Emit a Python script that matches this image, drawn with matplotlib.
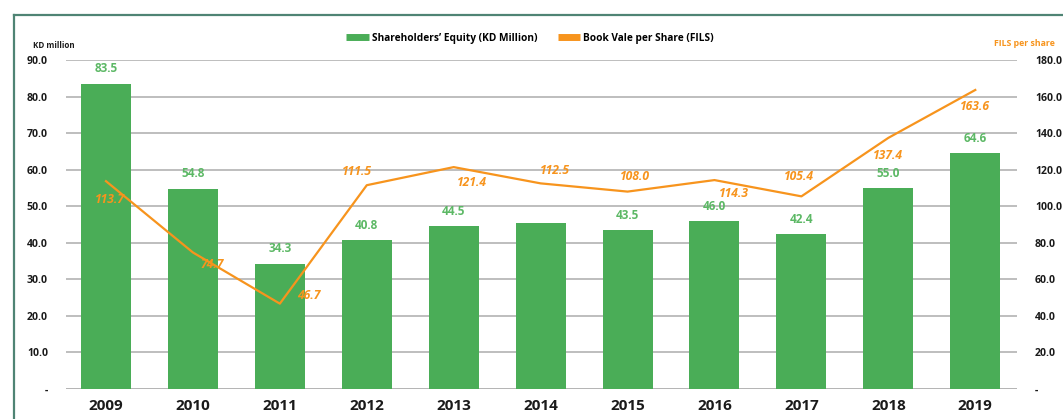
import matplotlib
matplotlib.use("Agg")
import matplotlib.pyplot as plt
from matplotlib.lines import Line2D
import numpy as np

years = ["2009", "2010", "2011", "2012", "2013", "2014", "2015", "2016", "2017", "2018", "2019"]
equity = [83.5, 54.8, 34.3, 40.8, 44.5, 45.5, 43.5, 46.0, 42.4, 55.0, 64.6]
equity_labels = ["83.5", "54.8", "34.3", "40.8", "44.5", "", "43.5", "46.0", "42.4", "55.0", "64.6"]
book_value = [113.7, 74.7, 46.7, 111.5, 121.4, 112.5, 108.0, 114.3, 105.4, 137.4, 163.6]
left_ticks = [0, 10, 20, 30, 40, 50, 60, 70, 80, 90]
right_ticks = [0, 20, 40, 60, 80, 100, 120, 140, 160, 180]

# label offsets (points) for the line values, as placed in the original
bv_offsets = [(3, -13), (14, -9), (21, 6), (-7, 10), (13, -11), (10, 9), (5, 11),
              (14, -10), (-2, 14), (0, -13), (0, -12)]

GREEN = "#4aad57"
GREEN_TXT = "#5cb865"
ORANGE = "#f7941d"
GRID = "#b3b3b3"
DARK = "#1a1a1a"

plt.rcParams["font.family"] = ["Open Sans", "DejaVu Sans"]
NARROW = ["Liberation Sans Narrow", "Open Sans", "DejaVu Sans"]

fig = plt.figure(figsize=(10.63, 4.19), dpi=100)
ax = fig.add_axes([66 / 1063, 1 - 389 / 419, (1017 - 66) / 1063, (389 - 60) / 419])
ax2 = ax.twinx()

x = np.arange(len(years))
ax.bar(x, equity, width=0.575, color=GREEN, zorder=2)
for xi, v, lab in zip(x, equity, equity_labels):
    if lab:
        ax.annotate(lab, (xi, v), xytext=(0, 6), textcoords="offset points",
                    ha="center", va="bottom", color=GREEN_TXT, fontsize=8.5, fontweight="bold")

ax2.plot(x, book_value, color=ORANGE, lw=1.6, zorder=3)
for xi, v, (dx, dy) in zip(x, book_value, bv_offsets):
    ax2.annotate(f"{v:.1f}", (xi, v), xytext=(dx, dy), textcoords="offset points",
                 ha="center", va="center", color=ORANGE, fontsize=8.7,
                 fontweight="bold", style="italic")

ax.set_xlim(-0.46, len(years) - 1 + 0.48)
ax.set_ylim(0, 90)
ax2.set_ylim(0, 180)
ax.set_yticks(left_ticks)
ax.set_yticklabels(["-"] + [f"{t:.1f}" for t in left_ticks[1:]])
ax2.set_yticks(right_ticks)
ax2.set_yticklabels(["-"] + [f"{t:.1f}" for t in right_ticks[1:]])
ax.set_xticks(x)
ax.set_xticklabels(years)

ax.grid(axis="y", color=GRID, lw=1.2, zorder=0)
ax.set_axisbelow(True)
for a in (ax, ax2):
    for s in a.spines.values():
        s.set_visible(False)
ax.tick_params(axis="y", length=0, pad=13, labelsize=7.6, labelcolor=DARK)
ax2.tick_params(axis="y", length=0, pad=13, labelsize=7.6, labelcolor=DARK)
for t in ax.get_yticklabels() + ax2.get_yticklabels():
    t.set_fontweight("bold")
ax.tick_params(axis="x", length=0, pad=7, labelcolor=DARK)
for t in ax.get_xticklabels():
    t.set_fontweight("bold")
    t.set_fontfamily(NARROW)
    t.set_fontsize(11)
ax.axhline(0, color=GRID, lw=1.2, zorder=1)

fig.text(33 / 1063, 1 - 45 / 419, "KD million", fontsize=5.8, fontweight="bold", color=DARK, va="center")
fig.text(1055 / 1063, 1 - 44 / 419, "FILS per share", fontsize=6.3, fontweight="bold",
         color=ORANGE, ha="right", va="center")

handles = [Line2D([], [], color=GREEN, lw=5, solid_capstyle="butt"),
           Line2D([], [], color=ORANGE, lw=5, solid_capstyle="butt")]
fig.legend(handles, ["Shareholders\u2019 Equity (KD Million)", "Book Vale per Share (FILS)"],
           loc="center", bbox_to_anchor=(530 / 1063, 1 - 38 / 419), ncol=2, frameon=False,
           prop={"weight": "bold", "size": 7.3}, handlelength=2.2, handletextpad=0.3,
           columnspacing=2.0)

# page frame
frame = "#4f8474"
fig.add_artist(Line2D([14 / 1063, 14 / 1063], [0, 1 - 15 / 419], color=frame, lw=1.6,
                      transform=fig.transFigure))
fig.add_artist(Line2D([14 / 1063, 1], [1 - 15 / 419, 1 - 15 / 419], color=frame, lw=1.6,
                      transform=fig.transFigure))

fig.savefig("out.png", dpi=100)
